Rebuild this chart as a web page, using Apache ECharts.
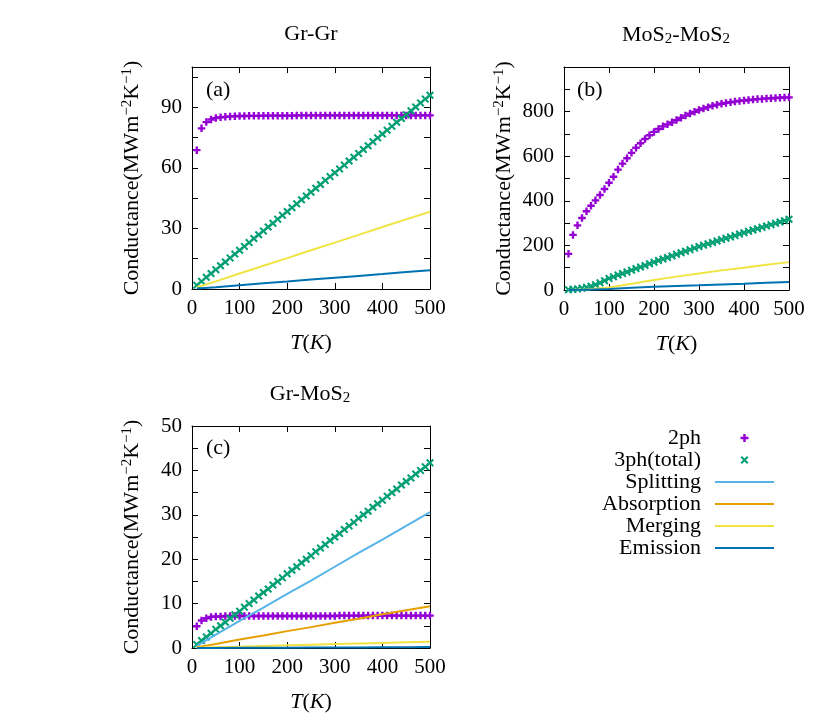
<!DOCTYPE html>
<html>
<head>
<meta charset="utf-8">
<title>Conductance</title>
<script src="https://cdn.jsdelivr.net/npm/echarts@6/dist/echarts.min.js"></script>
<style>
  html, body { margin: 0; padding: 0; background: #ffffff; }
  #chart { width: 830px; height: 721px; }
</style>
</head>
<body>
<div id="chart"></div>
<script>
// temperatures of the point series, and of the (straighter) line series
const temps = [10, 20, 30, 40, 50, 60, 70, 80, 90, 100, 110, 120, 130, 140, 150, 160, 170, 180, 190, 200,
  210, 220, 230, 240, 250, 260, 270, 280, 290, 300, 310, 320, 330, 340, 350, 360, 370, 380, 390, 400,
  410, 420, 430, 440, 450, 460, 470, 480, 490, 500];
const lineTemps = [10, 50, 100, 150, 200, 250, 300, 350, 400, 450, 500];

// (a) Gr-Gr
const grGr2ph = [68.8, 79.6, 82.7, 84.0, 84.7, 85.1, 85.3, 85.5, 85.6, 85.7, 85.7, 85.8, 85.8, 85.8, 85.9, 85.9, 85.9, 85.9, 85.9, 85.9,
  85.9, 86.0, 86.0, 86.0, 86.0, 86.0, 86.0, 86.0, 86.0, 86.0, 86.0, 86.0, 86.0, 86.0, 86.0, 86.0, 86.0, 86.0, 86.0, 86.0,
  86.0, 86.0, 86.0, 86.0, 86.0, 86.0, 86.0, 86.0, 86.0, 86.0];
const grGr3ph = [1.9, 3.8, 5.8, 7.7, 9.6, 11.5, 13.4, 15.4, 17.3, 19.2, 21.1, 23.0, 25.0, 26.9, 28.8, 30.7, 32.6, 34.6, 36.5, 38.4,
  40.3, 42.2, 44.2, 46.1, 48.0, 49.9, 51.8, 53.8, 55.7, 57.6, 59.5, 61.4, 63.4, 65.3, 67.2, 69.1, 71.0, 73.0, 74.9, 76.8,
  78.7, 80.6, 82.6, 84.5, 86.4, 88.3, 90.2, 92.2, 94.1, 96.0];
const grGrMerging = [0.8, 3.8, 7.7, 11.5, 15.3, 19.2, 23.0, 26.8, 30.7, 34.5, 38.3];
const grGrEmission = [0.2, 0.9, 1.9, 2.8, 3.7, 4.7, 5.6, 6.5, 7.4, 8.4, 9.3];

// (b) MoS2-MoS2
const mosMos2ph = [162, 247, 290, 323, 353, 378, 402, 426, 453, 481, 508, 540, 567, 591, 615, 638, 658, 677, 694, 709,
  722, 734, 743, 752, 762, 772, 782, 791, 799, 807, 814, 820, 826, 831, 835, 839, 842, 845, 848, 850,
  852, 854, 856, 857, 859, 860, 861, 862, 863, 864];
const mosMos3ph = [1, 3, 5, 8, 12, 17, 24, 32, 42, 52, 59, 67, 74, 81, 89, 96, 103, 110, 118, 125,
  132, 139, 146, 153, 160, 167, 174, 181, 188, 195, 201, 207, 213, 220, 226, 232, 238, 244, 251, 257,
  263, 269, 275, 281, 287, 293, 299, 305, 311, 317];
const mosMosMerging = [0, 2, 11, 28, 45, 60, 74, 88, 100, 113, 125];
const mosMosEmission = [0, 1, 5, 10, 15, 18, 21, 25, 28, 32, 36];

// (c) Gr-MoS2
const grMos2ph = [4.9, 6.2, 6.7, 7.0, 7.1, 7.1, 7.2, 7.2, 7.2, 7.2, 7.2, 7.2, 7.2, 7.2, 7.2, 7.2, 7.2, 7.2, 7.2, 7.2,
  7.2, 7.2, 7.2, 7.2, 7.2, 7.2, 7.2, 7.2, 7.2, 7.2, 7.3, 7.3, 7.3, 7.3, 7.3, 7.3, 7.3, 7.3, 7.3, 7.3,
  7.3, 7.3, 7.3, 7.3, 7.3, 7.3, 7.3, 7.3, 7.3, 7.3];
const grMos3ph = [0.8, 1.7, 2.5, 3.3, 4.2, 5.0, 5.8, 6.7, 7.5, 8.3, 9.2, 10.0, 10.8, 11.7, 12.5, 13.3, 14.2, 15.0, 15.8, 16.7,
  17.5, 18.3, 19.2, 20.0, 20.8, 21.7, 22.5, 23.3, 24.2, 25.0, 25.8, 26.7, 27.5, 28.3, 29.2, 30.0, 30.8, 31.7, 32.5, 33.3,
  34.2, 35.0, 35.8, 36.7, 37.5, 38.3, 39.2, 40.0, 40.8, 41.7];
const grMosSplitting = [0.5, 3.0, 6.1, 9.1, 12.2, 15.2, 18.3, 21.4, 24.4, 27.5, 30.6];
const grMosAbsorption = [0.2, 0.9, 1.9, 2.8, 3.8, 4.7, 5.7, 6.6, 7.6, 8.5, 9.4];
const grMosMerging = [0.03, 0.15, 0.3, 0.45, 0.6, 0.74, 0.88, 1.02, 1.15, 1.28, 1.4];
const grMosEmission = [0, 0.02, 0.04, 0.06, 0.08, 0.1, 0.12, 0.14, 0.16, 0.18, 0.2];

const legendNames = ['2ph', '3ph(total)', 'Splitting', 'Absorption', 'Merging', 'Emission'];

const FONT = 'Liberation Serif';
const colors = {
  '2ph': '#9400d3',
  '3ph(total)': '#009e73',
  'Splitting': '#56b4e9',
  'Absorption': '#e69f00',
  'Merging': '#f0e442',
  'Emission': '#0072b2'
};
// gnuplot style "+" and "x" markers
const plusPath = 'path://M2.4,0H4.6V2.4H7V4.6H4.6V7H2.4V4.6H0V2.4H2.4Z';
const crossPath = 'path://M0,1.8L1.8,0L5,3.2L8.2,0L10,1.8L6.8,5L10,8.2L8.2,10L5,6.8L1.8,10L0,8.2L3.2,5Z';
const linePath = 'path://M0,0H59V2H0Z';

const grids = [
  { left: 192, top: 67, width: 238, height: 222 },  // (a)
  { left: 564, top: 67, width: 225, height: 223 },  // (b)
  { left: 192, top: 426, width: 238, height: 222 }  // (c)
];
const yRanges = [
  { max: 110, interval: 30, lastLabel: 90 },
  { max: 1000, interval: 200, lastLabel: 800 },
  { max: 50, interval: 10, lastLabel: 50 }
];

const lineStyleAxis = { color: '#000', width: 1 };
const labelStyle = { color: '#000', fontFamily: FONT, fontSize: 21 };
const nameStyle = { color: '#000', fontFamily: FONT, fontSize: 22 };

const xAxis = [];
const yAxis = [];
grids.forEach((g, i) => {
  // bottom and top (mirror) x axes
  [false, true].forEach(mirror => {
    xAxis.push({
      type: 'value', gridIndex: i, position: mirror ? 'top' : 'bottom',
      min: 0, max: 500, interval: 100,
      axisLine: { show: true, onZero: false, lineStyle: lineStyleAxis },
      axisTick: { show: true, inside: true, length: 6, lineStyle: lineStyleAxis },
      axisLabel: { show: !mirror, margin: 9, ...labelStyle },
      splitLine: { show: false },
      name: mirror ? '' : '{i|T}({i|K})',
      nameLocation: 'middle', nameGap: 43,
      nameTextStyle: { ...nameStyle, rich: { i: { ...nameStyle, fontStyle: 'italic' } } }
    });
  });
  // left and right (mirror) y axes
  [false, true].forEach(mirror => {
    const r = yRanges[i];
    yAxis.push({
      type: 'value', gridIndex: i, position: mirror ? 'right' : 'left',
      min: 0, max: r.max, interval: r.interval,
      axisLine: { show: true, onZero: false, lineStyle: lineStyleAxis },
      axisTick: { show: true, inside: true, length: 6, lineStyle: lineStyleAxis },
      minorTick: { show: true, splitNumber: 2, length: 6, lineStyle: lineStyleAxis },
      axisLabel: {
        show: !mirror, margin: 10, ...labelStyle,
        formatter: v => (v % r.interval === 0 && v <= r.lastLabel ? v : '')
      },
      splitLine: { show: false },
      minorSplitLine: { show: false },
      name: mirror ? '' : 'Conductance(MWm{sup|−2}K{sup|−1})',
      nameLocation: 'middle', nameGap: 48,
      nameTextStyle: {
        ...nameStyle, lineHeight: 24,
        rich: { sup: { fontFamily: FONT, fontSize: 15, lineHeight: 14, verticalAlign: 'top', color: '#000' } }
      }
    });
  });
});

function pts(xs, ys) {
  return xs.map((x, k) => [x, ys[k]]);
}
function scatter(name, i, values) {
  return {
    name, type: 'scatter', xAxisIndex: 2 * i, yAxisIndex: 2 * i,
    symbol: name === '2ph' ? plusPath : crossPath,
    symbolSize: name === '2ph' ? 7.5 : 8,
    itemStyle: { color: colors[name], opacity: 1 },
    data: pts(temps, values)
  };
}
function line(name, i, values) {
  return {
    name, type: 'line', xAxisIndex: 2 * i, yAxisIndex: 2 * i,
    symbol: 'none', showSymbol: false,
    lineStyle: { color: colors[name], width: 2 },
    itemStyle: { color: colors[name] },
    data: pts(lineTemps, values)
  };
}

const series = [
  scatter('2ph', 0, grGr2ph),
  scatter('3ph(total)', 0, grGr3ph),
  line('Merging', 0, grGrMerging),
  line('Emission', 0, grGrEmission),

  scatter('2ph', 1, mosMos2ph),
  scatter('3ph(total)', 1, mosMos3ph),
  line('Merging', 1, mosMosMerging),
  line('Emission', 1, mosMosEmission),

  scatter('2ph', 2, grMos2ph),
  scatter('3ph(total)', 2, grMos3ph),
  line('Splitting', 2, grMosSplitting),
  line('Absorption', 2, grMosAbsorption),
  line('Merging', 2, grMosMerging),
  line('Emission', 2, grMosEmission)
];

const subRich = { sub: { fontFamily: FONT, fontSize: 15, lineHeight: 14, verticalAlign: 'bottom', fill: '#000' } };
function textEl(text, x, y, align) {
  return {
    type: 'text', x, y,
    style: {
      text, fill: '#000', font: '22px "' + FONT + '"', lineHeight: 24,
      align, verticalAlign: 'middle', textAlign: align, textVerticalAlign: 'middle',
      rich: subRich
    }
  };
}

const chart = echarts.init(document.getElementById('chart'), null, { renderer: 'canvas' });
chart.setOption({
  animation: false,
  backgroundColor: '#fff',
  grid: grids.map(g => ({ ...g, containLabel: false, outerBoundsMode: 'none', show: false })),
  xAxis,
  yAxis,
  series,
  legend: {
    orient: 'vertical', right: 56, top: 427, padding: 0,
    align: 'right', selectedMode: false,
    itemWidth: 59, itemHeight: 8, itemGap: 0,
    textStyle: { color: '#000', fontFamily: FONT, fontSize: 22, lineHeight: 20, padding: [0, 9, 0, 0] },
    // line entries get a plain bar, no dot
    data: legendNames.map((n, k) => (k < 2 ? { name: n } : { name: n, icon: linePath }))
  },
  graphic: [
    textEl('Gr-Gr', 311, 34, 'center'),
    textEl('MoS{sub|2}-MoS{sub|2}', 676, 35, 'center'),
    textEl('Gr-MoS{sub|2}', 310, 394, 'center'),
    textEl('(a)', 206, 90, 'left'),
    textEl('(b)', 577, 90, 'left'),
    textEl('(c)', 206, 448, 'left')
  ]
});
</script>
</body>
</html>
